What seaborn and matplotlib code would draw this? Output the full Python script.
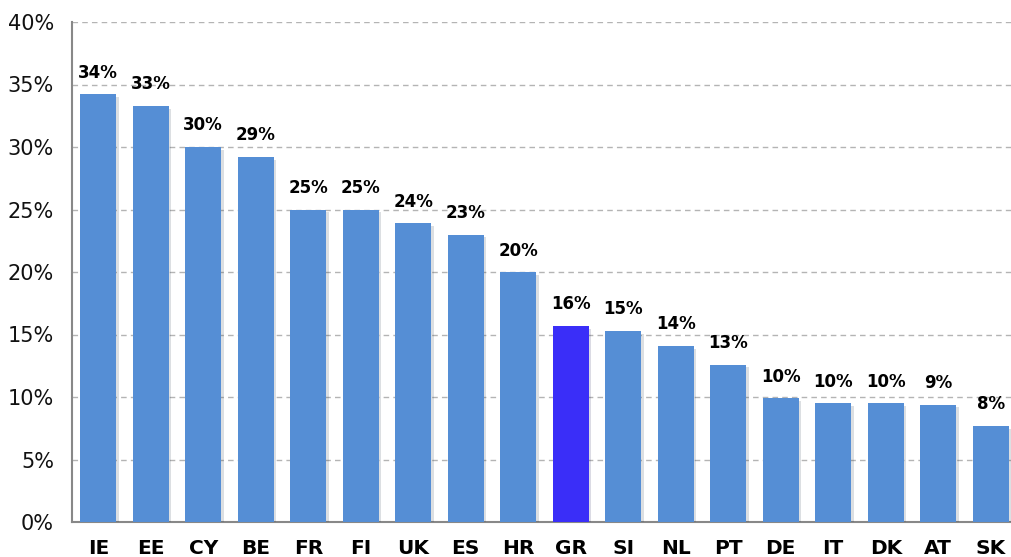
import pandas as pd
import matplotlib
matplotlib.use("Agg")
import matplotlib.pyplot as plt
import matplotlib.patheffects as pe
from matplotlib.ticker import FixedLocator
import seaborn as sns

# Chart data
countries = ["IE", "EE", "CY", "BE", "FR", "FI", "UK", "ES", "HR",
             "GR", "SI", "NL", "PT", "DE", "IT", "DK", "AT", "SK"]
values = [34.2, 33.3, 30.0, 29.2, 25.0, 25.0, 23.9, 23.0, 20.0,
          15.7, 15.3, 14.1, 12.6, 9.9, 9.5, 9.5, 9.4, 7.7]
labels = ["34%", "33%", "30%", "29%", "25%", "25%", "24%", "23%", "20%",
          "16%", "15%", "14%", "13%", "10%", "10%", "10%", "9%", "8%"]
highlight = "GR"

df = pd.DataFrame({"country": countries, "value": values})
palette = {c: ("#3a2ef8" if c == highlight else "#558ed5") for c in countries}

sns.set_style("white")
plt.rcParams["font.family"] = ["DejaVu Sans"]

fig = plt.figure(figsize=(10.11, 5.57), dpi=100)
ax = fig.add_axes([72 / 1011, 35 / 557, 945 / 1011, 500 / 557])

sns.barplot(data=df, x="country", y="value", hue="country", palette=palette,
            legend=False, width=0.68, saturation=1, linewidth=0, ax=ax, zorder=3)

# subtle drop shadow like the original
for p in ax.patches:
    p.set_path_effects([pe.SimplePatchShadow(offset=(2, -2), alpha=0.15), pe.Normal()])

# value labels
for p, lab in zip(ax.patches, labels):
    ax.text(p.get_x() + p.get_width() / 2, p.get_height() + 1.0, lab,
            ha="center", va="bottom", fontsize=12, fontweight="bold", color="black")

ax.set_xlim(-0.5, len(countries) - 0.5)
ax.set_ylim(0, 40)
ax.set_yticks(range(0, 41, 5))
ax.set_yticklabels([f"{v}%" for v in range(0, 41, 5)], fontsize=15, color="#111111")
ax.yaxis.grid(True, linestyle=(0, (4, 3)), color="#b4b4b4", linewidth=1, zorder=0)
ax.set_axisbelow(True)

ax.set_xlabel("")
ax.set_ylabel("")
ax.tick_params(axis="x", length=0, labelsize=14.5, labelcolor="black", pad=12)
for t in ax.get_xticklabels():
    t.set_fontweight("bold")
ax.xaxis.set_minor_locator(FixedLocator([i - 0.5 for i in range(len(countries) + 1)]))
ax.tick_params(axis="x", which="minor", length=5, color="#888888", direction="out")
ax.tick_params(axis="y", length=5, color="#888888", direction="out", pad=8)

for s in ["top", "right"]:
    ax.spines[s].set_visible(False)
for s in ["left", "bottom"]:
    ax.spines[s].set_color("#888888")
    ax.spines[s].set_linewidth(1.5)

fig.savefig("out.png", dpi=100)
